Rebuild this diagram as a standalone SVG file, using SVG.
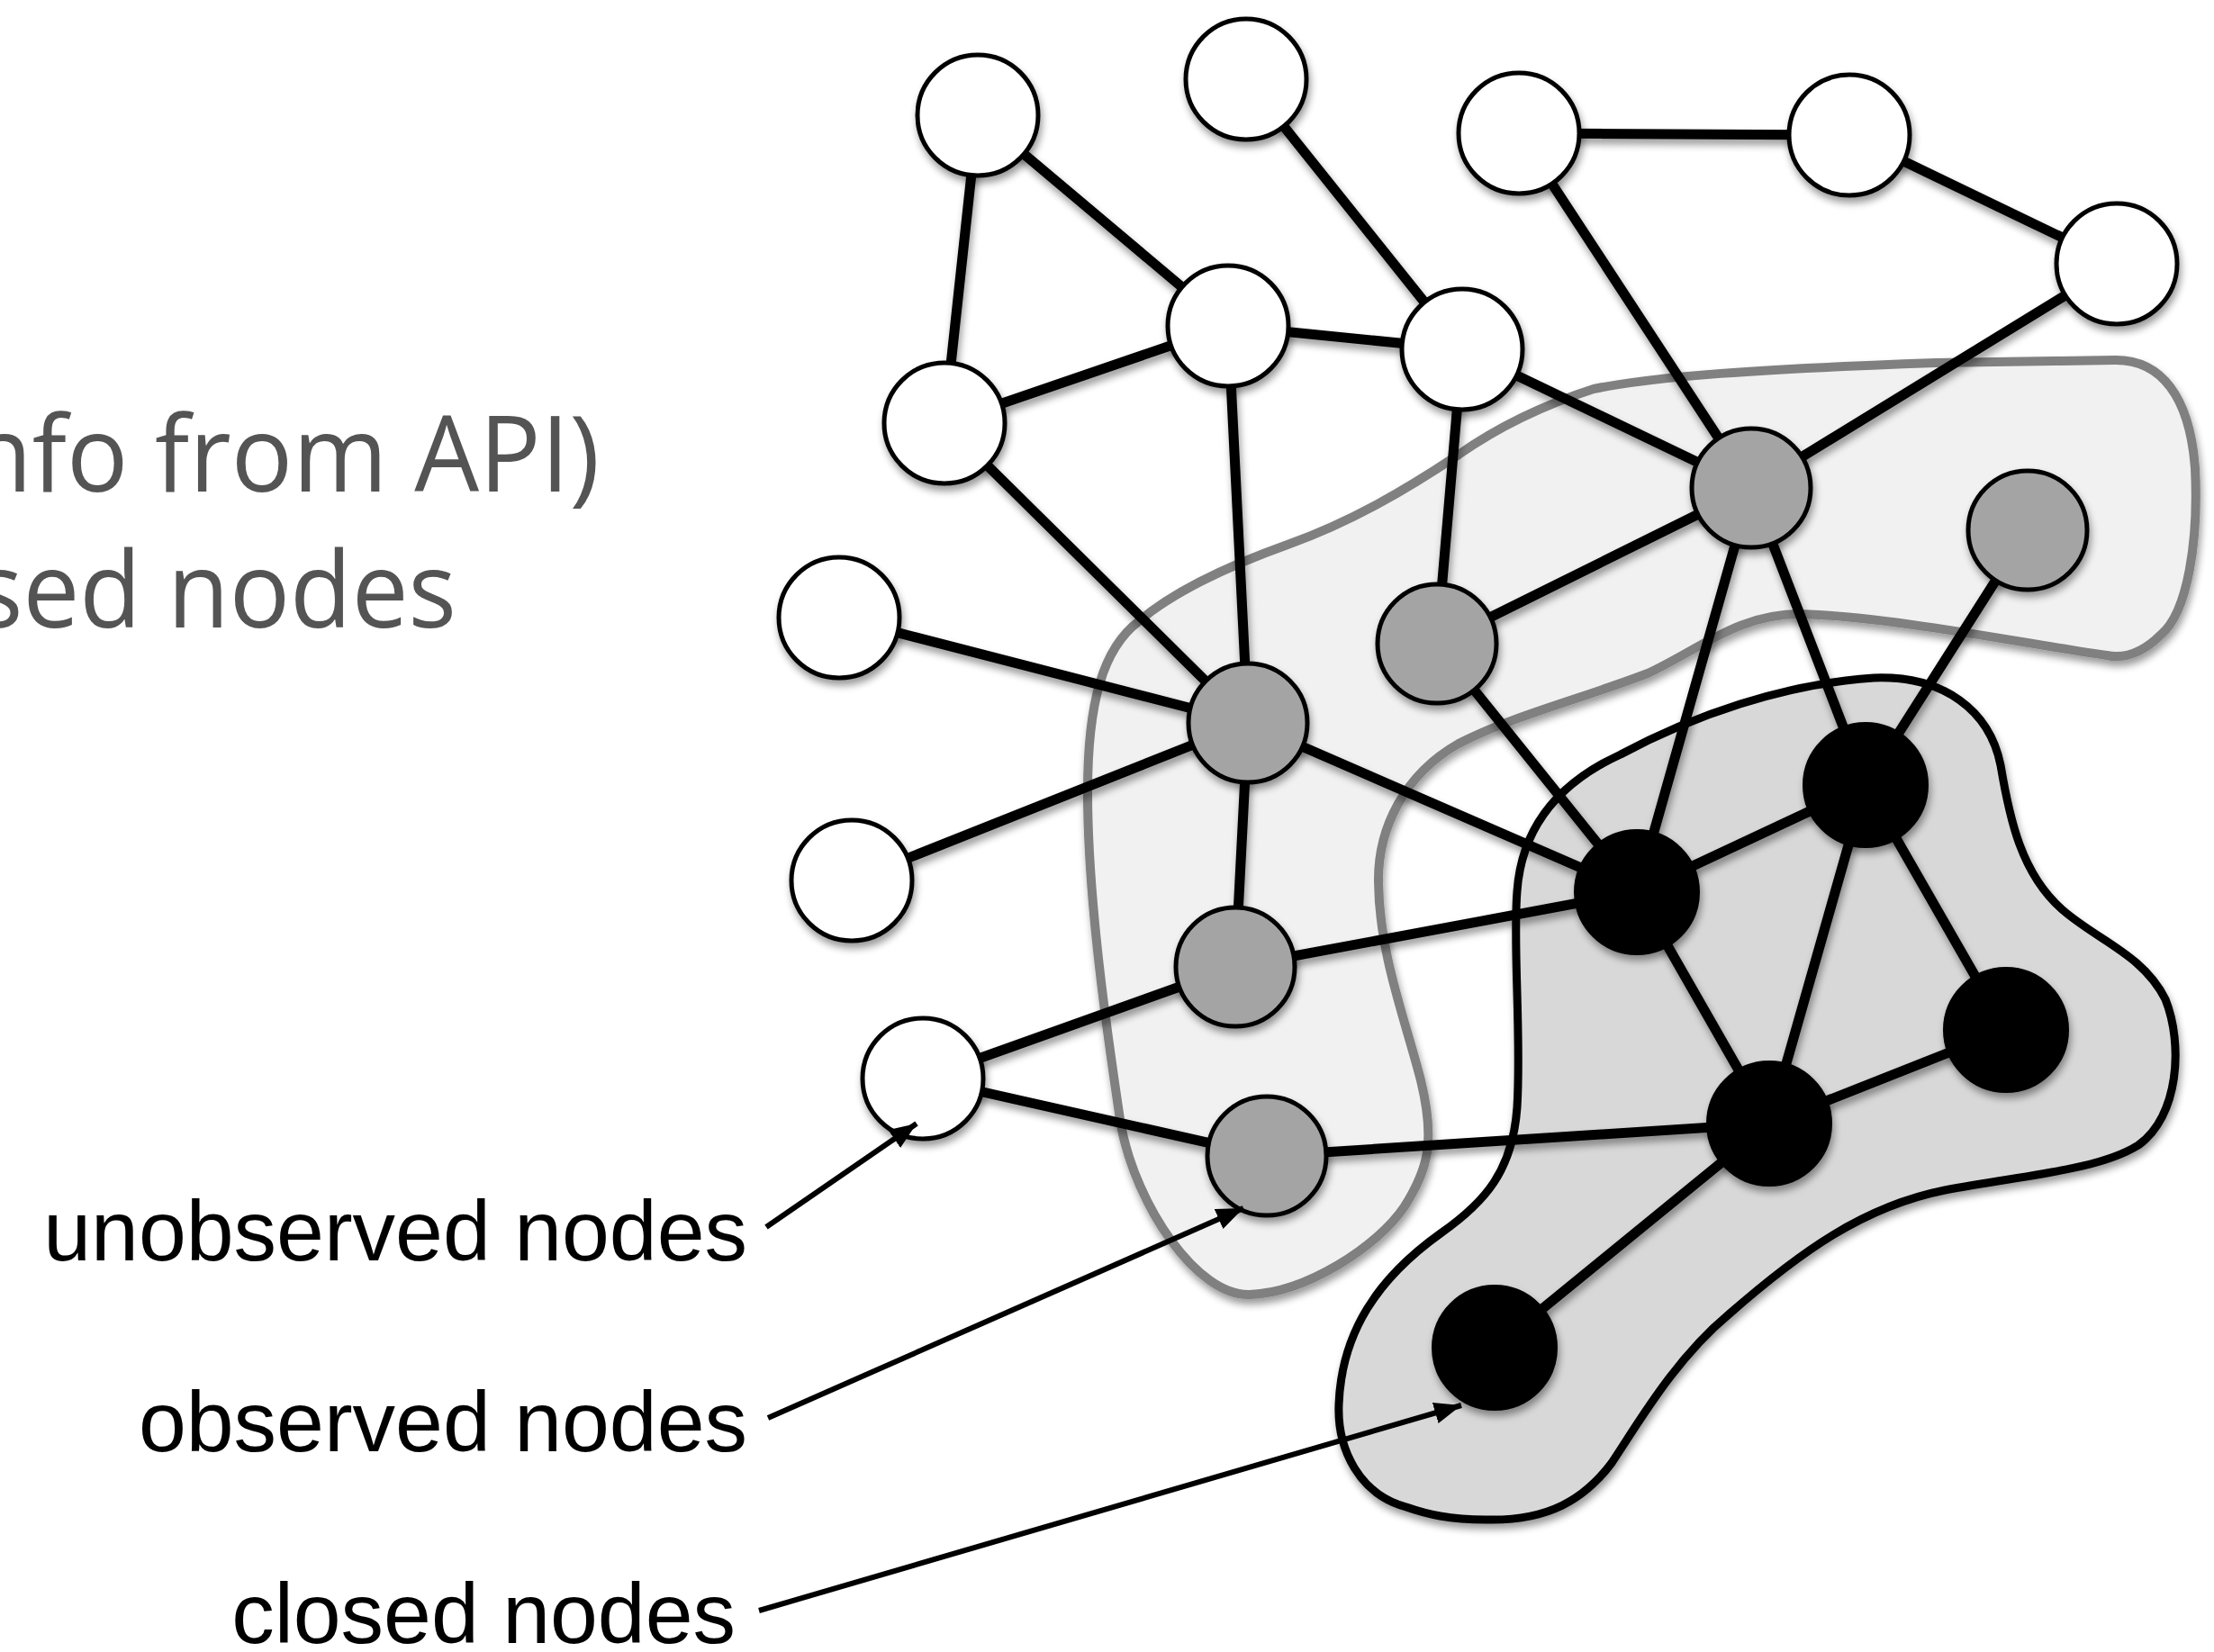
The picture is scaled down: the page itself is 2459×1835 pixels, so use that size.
<svg xmlns="http://www.w3.org/2000/svg" width="2459" height="1835" viewBox="0 0 2459 1835">
  <defs>
    <filter id="shadow" x="-5%" y="-5%" width="115%" height="115%">
      <feGaussianBlur in="SourceAlpha" stdDeviation="4"/>
      <feOffset dx="2" dy="6"/>
      <feComponentTransfer><feFuncA type="linear" slope="0.4"/></feComponentTransfer>
      <feMerge><feMergeNode/><feMergeNode in="SourceGraphic"/></feMerge>
    </filter>
    <marker id="head" markerUnits="userSpaceOnUse" markerWidth="32" markerHeight="26" refX="30" refY="12" orient="auto">
      <path d="M0,0 L30,12 L0,24 Z" fill="#000"/>
    </marker>
  </defs>
  <style>
    .title { font-family: "Open Sans", "Noto Sans", sans-serif; font-size: 118px; fill: #545454; }
    .label { font-family: "Liberation Sans", Arial, sans-serif; font-size: 95px; fill: #000; text-anchor: end; }
    .edge { stroke: #000; stroke-width: 11; stroke-linecap: round; fill: none; }
    .pointer { stroke: #000; stroke-width: 6; fill: none; marker-end: url(#head); }
    .unobs { fill: #fff; stroke: #000; stroke-width: 5; }
    .obs { fill: #a4a4a4; stroke: #000; stroke-width: 5; }
    .closed { fill: #000; stroke: #000; stroke-width: 4; }
    .zone-obs { fill: #f1f1f1; stroke: #808080; stroke-width: 10; }
    .zone-closed { fill: #d8d8d8; stroke: #000; stroke-width: 9; }
  </style>

  <rect width="2459" height="1835" fill="#fff"/>

  <!-- heading lines, cut at the left edge -->
  <text class="title" x="-34" y="546" textLength="700" lengthAdjust="spacingAndGlyphs">nfo from API)</text>
  <text class="title" x="-28" y="697" textLength="535" lengthAdjust="spacingAndGlyphs">sed nodes</text>

  <!-- shaded areas -->
  <g id="regions" filter="url(#shadow)">
    <path id="region-observed" class="zone-obs" d="M1388 1438 C1330 1440 1262 1340 1245 1250 C1230 1150 1208 1000 1208 880 C1208 780 1225 720 1265 690 C1300 660 1360 630 1430 605 C1500 580 1560 545 1620 505 C1670 470 1720 448 1770 432 C1840 418 1950 410 2150 403 L2350 400 C2400 400 2432 440 2438 520 C2442 600 2430 680 2400 705 C2380 725 2360 732 2340 728 C2250 715 2100 685 2000 682 C1930 682 1890 720 1830 748 C1760 775 1680 795 1620 826 C1560 860 1530 920 1531 980 C1532 1060 1560 1130 1578 1200 C1595 1270 1585 1300 1560 1340 C1530 1385 1450 1436 1388 1438 Z"/>
    <path id="region-closed" class="zone-closed" d="M1562 1674 C1510 1660 1485 1610 1487 1560 C1490 1480 1530 1420 1600 1370 C1650 1335 1680 1300 1685 1230 C1690 1150 1680 1050 1685 990 C1690 920 1730 870 1800 838 C1880 795 1980 760 2081 753 C2160 750 2210 790 2222 850 C2232 910 2245 970 2290 1010 C2330 1045 2380 1060 2405 1110 C2425 1160 2420 1240 2375 1272 C2330 1300 2250 1305 2160 1322 C2070 1340 2000 1390 1920 1460 C1860 1510 1820 1580 1790 1625 C1760 1665 1720 1690 1650 1688 C1610 1688 1585 1682 1562 1674 Z"/>
  </g>

  <!-- connectors -->
  <g id="edges" class="edges" filter="url(#shadow)">
    <line class="edge" x1="1086" y1="128" x2="1049" y2="470"/>
    <line class="edge" x1="1086" y1="128" x2="1364" y2="362"/>
    <line class="edge" x1="1384" y1="88" x2="1624" y2="388"/>
    <line class="edge" x1="1687" y1="148" x2="2054" y2="150"/>
    <line class="edge" x1="2054" y1="150" x2="2351" y2="293"/>
    <line class="edge" x1="1687" y1="148" x2="1945" y2="542"/>
    <line class="edge" x1="2351" y1="293" x2="1945" y2="542"/>
    <line class="edge" x1="1364" y1="362" x2="1049" y2="470"/>
    <line class="edge" x1="1364" y1="362" x2="1624" y2="388"/>
    <line class="edge" x1="1364" y1="362" x2="1386" y2="803"/>
    <line class="edge" x1="1624" y1="388" x2="1945" y2="542"/>
    <line class="edge" x1="1624" y1="388" x2="1596" y2="715"/>
    <line class="edge" x1="1049" y1="470" x2="1386" y2="803"/>
    <line class="edge" x1="932" y1="686" x2="1386" y2="803"/>
    <line class="edge" x1="946" y1="978" x2="1386" y2="803"/>
    <line class="edge" x1="1386" y1="803" x2="1372" y2="1074"/>
    <line class="edge" x1="1386" y1="803" x2="1818" y2="991"/>
    <line class="edge" x1="1596" y1="715" x2="1945" y2="542"/>
    <line class="edge" x1="1596" y1="715" x2="1818" y2="991"/>
    <line class="edge" x1="1945" y1="542" x2="1818" y2="991"/>
    <line class="edge" x1="1945" y1="542" x2="2072" y2="872"/>
    <line class="edge" x1="2252" y1="589" x2="2072" y2="872"/>
    <line class="edge" x1="1818" y1="991" x2="2072" y2="872"/>
    <line class="edge" x1="1818" y1="991" x2="1965" y2="1248"/>
    <line class="edge" x1="2072" y1="872" x2="1965" y2="1248"/>
    <line class="edge" x1="2072" y1="872" x2="2228" y2="1144"/>
    <line class="edge" x1="2228" y1="1144" x2="1965" y2="1248"/>
    <line class="edge" x1="1372" y1="1074" x2="1025" y2="1198"/>
    <line class="edge" x1="1372" y1="1074" x2="1818" y2="991"/>
    <line class="edge" x1="1025" y1="1198" x2="1407" y2="1284"/>
    <line class="edge" x1="1407" y1="1284" x2="1965" y2="1248"/>
    <line class="edge" x1="1965" y1="1248" x2="1660" y2="1497"/>
  </g>

  <!-- nodes -->
  <g id="nodes" filter="url(#shadow)">
    <g id="u1"><circle class="unobs" cx="1086" cy="128" r="67"/></g>
    <g id="u2"><circle class="unobs" cx="1384" cy="88" r="67"/></g>
    <g id="u3"><circle class="unobs" cx="1687" cy="148" r="67"/></g>
    <g id="u4"><circle class="unobs" cx="2054" cy="150" r="67"/></g>
    <g id="u5"><circle class="unobs" cx="2351" cy="293" r="67"/></g>
    <g id="u6"><circle class="unobs" cx="1364" cy="362" r="67"/></g>
    <g id="u7"><circle class="unobs" cx="1624" cy="388" r="67"/></g>
    <g id="u8"><circle class="unobs" cx="1049" cy="470" r="67"/></g>
    <g id="u9"><circle class="unobs" cx="932" cy="686" r="67"/></g>
    <g id="u10"><circle class="unobs" cx="946" cy="978" r="67"/></g>
    <g id="u11"><circle class="unobs" cx="1025" cy="1198" r="67"/></g>

    <g id="o1"><circle class="obs" cx="1945" cy="542" r="66"/></g>
    <g id="o2"><circle class="obs" cx="2252" cy="589" r="66"/></g>
    <g id="o3"><circle class="obs" cx="1596" cy="715" r="66"/></g>
    <g id="o4"><circle class="obs" cx="1386" cy="803" r="66"/></g>
    <g id="o5"><circle class="obs" cx="1372" cy="1074" r="66"/></g>
    <g id="o6"><circle class="obs" cx="1407" cy="1284" r="66"/></g>

    <g id="c1"><circle class="closed" cx="2072" cy="872" r="68"/></g>
    <g id="c2"><circle class="closed" cx="1818" cy="991" r="68"/></g>
    <g id="c3"><circle class="closed" cx="2228" cy="1144" r="68"/></g>
    <g id="c4"><circle class="closed" cx="1965" cy="1248" r="68"/></g>
    <g id="c5"><circle class="closed" cx="1660" cy="1497" r="68"/></g>
  </g>

  <!-- legend labels with pointers -->
  <g id="legend">
    <text class="label" x="830" y="1400">unobserved nodes</text>
    <text class="label" x="830" y="1612">observed nodes</text>
    <text class="label" x="817" y="1825">closed nodes</text>
    <line class="pointer" x1="851" y1="1363" x2="1018" y2="1248"/>
    <line class="pointer" x1="853" y1="1575" x2="1381" y2="1342"/>
    <line class="pointer" x1="843" y1="1789" x2="1623" y2="1561"/>
  </g>
</svg>
